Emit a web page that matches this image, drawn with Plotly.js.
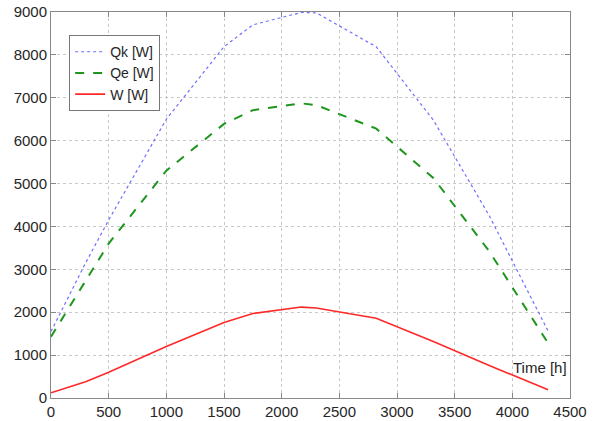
<!DOCTYPE html>
<html>
<head>
<meta charset="utf-8">
<script src="https://cdn.plot.ly/plotly-3.0.1.min.js"></script>
<style>
  html, body { margin: 0; padding: 0; background: #fff; }
  #chart { width: 596px; height: 421px; }
</style>
</head>
<body>
<div id="chart"></div>
<script>
// Operating time in hours
const timeH = [0, 300, 500, 1000, 1500, 1750, 2170, 2300, 2820, 3315, 3800, 4310];
// Heat flows and power, in watts
const qk = [1550, 3150, 4150, 6500, 8190, 8700, 8990, 8980, 8190, 6480, 4250, 1560];
const qe = [1430, 2740, 3600, 5300, 6390, 6710, 6870, 6830, 6280, 5130, 3420, 1280];
const w  = [120, 380, 600, 1200, 1760, 1970, 2120, 2100, 1860, 1320, 760, 190];

const seriesNames = ['Qk [W]', 'Qe [W]', 'W [W]'];
const xTicks = [0, 500, 1000, 1500, 2000, 2500, 3000, 3500, 4000, 4500];
const yTicks = [0, 1000, 2000, 3000, 4000, 5000, 6000, 7000, 8000, 9000];
const xLabelText = 'Time [h]';

const font = { family: 'Liberation Sans, Arial, sans-serif', size: 15, color: '#262626' };

const traces = [
  { x: timeH, y: qk, name: seriesNames[0], mode: 'lines',
    line: { color: 'rgb(110,110,255)', width: 1.2, dash: 'dot' } },
  { x: timeH, y: qe, name: seriesNames[1], mode: 'lines',
    line: { color: 'rgb(30,150,30)', width: 2, dash: 'dash' } },
  { x: timeH, y: w, name: seriesNames[2], mode: 'lines',
    line: { color: 'rgb(255,40,40)', width: 1.6 } }
];

const gridStyle = { showgrid: true, gridcolor: '#c8c8c8', griddash: 'dot', gridwidth: 1 };

const layout = {
  width: 596, height: 421,
  margin: { l: 51, r: 26, t: 12, b: 23 },
  paper_bgcolor: '#fff', plot_bgcolor: '#fff',
  font: font,
  showlegend: true,
  legend: {
    x: 0.035, y: 0.94, xanchor: 'left', yanchor: 'top',
    bgcolor: '#fff', bordercolor: '#777', borderwidth: 1,
    font: { family: font.family, size: 14, color: '#262626' },
    itemwidth: 30, tracegroupgap: 0
  },
  xaxis: Object.assign({
    range: [0, 4500], tickvals: xTicks, ticktext: xTicks.map(String),
    showline: true, linecolor: '#888', linewidth: 1, mirror: 'ticks',
    ticks: 'inside', ticklen: 5, tickcolor: '#888',
    zeroline: false, tickfont: font
  }, gridStyle),
  yaxis: Object.assign({
    range: [0, 9000], tickvals: yTicks, ticktext: yTicks.map(String),
    showline: true, linecolor: '#888', linewidth: 1, mirror: 'ticks',
    ticks: 'inside', ticklen: 5, tickcolor: '#888',
    zeroline: false, tickfont: font
  }, gridStyle),
  annotations: [{
    text: xLabelText, xref: 'x', yref: 'y', x: 4490, y: 700,
    xanchor: 'right', yanchor: 'middle', showarrow: false,
    font: font, bgcolor: 'rgba(255,255,255,0)'
  }]
};

Plotly.newPlot('chart', traces, layout, { displayModeBar: false, staticPlot: true });
</script>
</body>
</html>
